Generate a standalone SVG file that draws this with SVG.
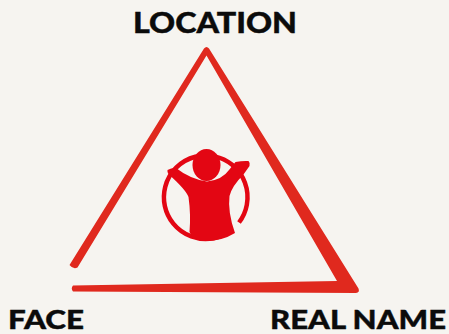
<svg xmlns="http://www.w3.org/2000/svg" width="449" height="334" viewBox="0 0 449 334">
<style>
.l{font-family:"Lato","Open Sans",sans-serif;font-weight:900;font-size:26.500px;fill:#0b0b0b;stroke:#0b0b0b;stroke-width:.4}
.logo{fill:#e30613}
</style>
<rect width="449" height="334" fill="#f6f4f0"/>
<path id="triangle" fill="#e0291e" d="M204,48.500Q206.500,45.500 209,48.500L358.500,288.500Q360,292.500 356,293L73,291.500Q70.500,288.500 73,285.500L337,281L206.500,55.500L77.500,267.500Q73.500,270 69.500,265Z"/>
<g id="logo">
<path d="M239,222.500A41.800 41.800 0 1 0 231,230.500" fill="none" stroke="#e30613" stroke-width="4.500"/>
<ellipse class="logo" cx="206.500" cy="165" rx="14" ry="16"/>
<path class="logo" d="M167.500,170Q172,167.500 176,168Q190,179 207,181.500Q222,180 229,170L235.500,162Q243,160.500 248.500,161Q250.500,163 249.500,166L243.500,174.500Q232,186 229.500,196Q227.500,212 235,233Q222,241 206,241Q192,240 189.500,232Q191,215 188.500,197Q186,190 170,175.500Q167,173 167.500,170Z"/>
</g>
<text class="l" x="133" y="33" textLength="164" lengthAdjust="spacingAndGlyphs" style="font-size:28px">LOCATION</text>
<text class="l" x="8" y="328.500" textLength="76" lengthAdjust="spacingAndGlyphs">FACE</text>
<text class="l" x="270" y="328.500" textLength="176" lengthAdjust="spacingAndGlyphs">REAL NAME</text>
</svg>
